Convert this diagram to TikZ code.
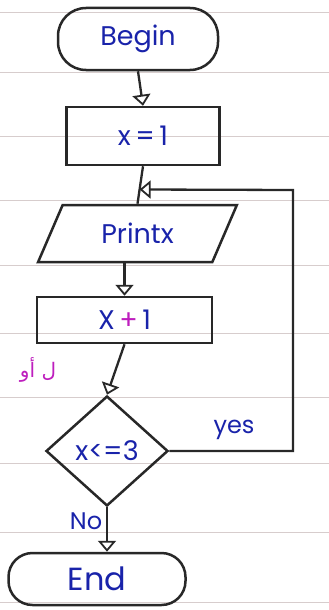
\documentclass[tikz,border=0pt]{standalone}
\usepackage{fontspec}
\setmainfont{Poppins}
\newfontfamily\arabicfont[Script=Arabic]{DejaVu Sans}
\TeXXeTstate=1
\usetikzlibrary{arrows.meta,shapes.geometric,calc}
\definecolor{ink}{RGB}{25,35,170}
\definecolor{pen}{RGB}{40,40,40}
\definecolor{mag}{RGB}{190,30,190}
\definecolor{rulec}{RGB}{215,205,205}
\begin{document}
\begin{tikzpicture}[x=1pt,y=-1pt,
 shapebox/.style={draw=pen,line width=2.5pt,font=\fontsize{27}{29}\selectfont,text=ink,inner sep=0pt},
 term/.style={shapebox,rectangle,rounded corners=28pt},
 proc/.style={shapebox,rectangle},
 io/.style={shapebox,trapezium,trapezium left angle=60,trapezium right angle=120,trapezium stretches=true},
 dec/.style={shapebox,diamond,aspect=1.1},
 conn/.style={draw=pen,line width=2.3pt},
 flow/.style={conn,-{Triangle[open,length=11pt,width=18pt,line width=1.8pt]}},
 lbl/.style={text=ink,font=\fontsize{24}{26}\selectfont,inner sep=1pt},
 paperline/.style={draw=rulec,line width=0.8pt}]
\useasboundingbox (0,0) rectangle (329,610);
\fill[white] (0,0) rectangle (329,610);
% ruled paper
\foreach \yy in {12,72,136,200,265,333,397,463,532,602}{
  \draw[paperline] (0,\yy) -- (329,\yy);
}
% nodes
\node[term,minimum width=160pt,minimum height=62pt] (begin) at (138,39) {Begin};
\node[proc,minimum width=153pt,minimum height=58pt] (box1) at (143,136) {x\,=\,1};
\node[io,minimum width=199pt,minimum height=57pt] (print) at (137.5,233.5) {Printx};
\node[proc,minimum width=175pt,minimum height=46pt] (box2) at (124.5,320) {X\,\textcolor{mag}{+}\,1};
\node[dec,minimum width=122pt,minimum height=110pt] (dec) at (107,451) {x\textless=3};
\node[term,font=\fontsize{32}{34}\selectfont,minimum width=177pt,minimum height=52pt,rounded corners=24pt] (end) at (97,579) {End};
% labels
\node[lbl] (yes) at (234,430) {yes};
\node[lbl] (no) at (86,521) {No};
\node[text=mag,font=\arabicfont\fontsize{20}{22}\selectfont] (ar) at (38,370) {\beginR ل أو\endR};
% connectors
\draw[flow] (begin.south) -- (box1.north);
\draw[conn] (box1.south) -- (print.north);
\coordinate (m) at ($(box1.south)!0.62!(print.north)$);
\coordinate (c2) at (293,190);
\draw[flow] (dec.east) -| (c2) -- (m);
\draw[flow] (box2.north |- print.south) -- (box2.north);
\draw[flow] (box2.south) -- (dec.north);
\draw[flow] (dec.south) -- (dec.south |- end.north);
\end{tikzpicture}
\end{document}
